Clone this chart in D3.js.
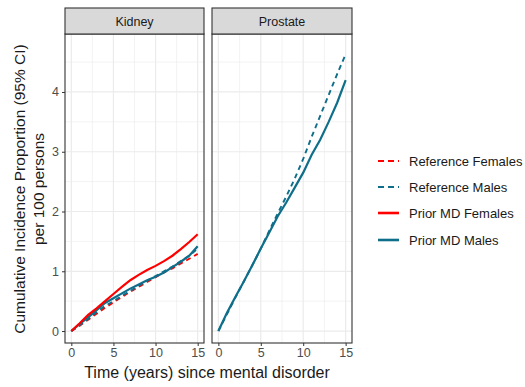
<!DOCTYPE html>
<html><head><meta charset="utf-8">
<script src="https://cdn.jsdelivr.net/npm/d3@7"></script>
<style>body{margin:0;background:#fff}svg{display:block;font-family:Arial,"Liberation Sans",sans-serif}</style>
</head><body><div id="chart"></div>
<script>
const years = [0,1,2,3,4,5,6,7,8,9,10,11,12,13,14,15];
const panels = ["Kidney","Prostate"];
const seriesNames = ["Reference Females","Reference Males","Prior MD Females","Prior MD Males"];
const kidneyRefFemales = [0,0.09,0.19,0.29,0.39,0.48,0.57,0.66,0.74,0.82,0.90,0.98,1.05,1.13,1.21,1.29];
const kidneyRefMales   = [0,0.10,0.20,0.32,0.42,0.50,0.59,0.67,0.76,0.84,0.92,1.00,1.08,1.17,1.26,1.38];
const kidneyMDFemales  = [0,0.13,0.27,0.38,0.50,0.62,0.74,0.85,0.94,1.02,1.09,1.17,1.26,1.37,1.49,1.62];
const kidneyMDMales    = [0,0.12,0.23,0.35,0.47,0.55,0.63,0.71,0.78,0.85,0.91,0.98,1.07,1.16,1.26,1.42];
const prostateRefMales = [0,0.28,0.56,0.83,1.10,1.38,1.68,1.97,2.25,2.55,2.88,3.25,3.60,3.95,4.30,4.63];
const prostateMDMales  = [0,0.30,0.57,0.83,1.10,1.38,1.65,1.92,2.15,2.40,2.65,2.95,3.20,3.50,3.82,4.20];
const xTicks = [0,5,10,15];
const yTicks = [0,1,2,3,4];

const colors = {"Reference Females":"#FF0000","Reference Males":"#0F6E89","Prior MD Females":"#FF0000","Prior MD Males":"#0F6E89"};
const dashed = {"Reference Females":true,"Reference Males":true,"Prior MD Females":false,"Prior MD Males":false};

const data = {
  Kidney: [
    {name:"Reference Females", v:kidneyRefFemales},
    {name:"Reference Males", v:kidneyRefMales},
    {name:"Prior MD Males", v:kidneyMDMales},
    {name:"Prior MD Females", v:kidneyMDFemales}
  ],
  Prostate: [
    {name:"Reference Males", v:prostateRefMales},
    {name:"Prior MD Males", v:prostateMDMales}
  ]
};

const W=525,H=387;
const FONT="Arial,'Liberation Sans',sans-serif";
const svg=d3.select("#chart").append("svg").attr("width",W).attr("height",H);
const panelX = {Kidney:[65,204], Prostate:[212,352]};
const pTop=34, pBottom=343, stripTop=8;
const y=d3.scaleLinear().domain([-0.2,4.97]).range([pBottom,pTop]);

panels.forEach(p=>{
  const [x0,x1]=panelX[p];
  const x=d3.scaleLinear().domain([-0.75,15.75]).range([x0,x1]);
  const g=svg.append("g");
  [2.5,7.5,12.5].forEach(t=>g.append("line").attr("x1",x(t)).attr("x2",x(t)).attr("y1",pTop).attr("y2",pBottom).attr("stroke","#ebebeb").attr("stroke-width",0.6));
  [0.5,1.5,2.5,3.5,4.5].forEach(t=>g.append("line").attr("x1",x0).attr("x2",x1).attr("y1",y(t)).attr("y2",y(t)).attr("stroke","#ebebeb").attr("stroke-width",0.6));
  xTicks.forEach(t=>g.append("line").attr("x1",x(t)).attr("x2",x(t)).attr("y1",pTop).attr("y2",pBottom).attr("stroke","#ebebeb").attr("stroke-width",1.2));
  yTicks.forEach(t=>g.append("line").attr("x1",x0).attr("x2",x1).attr("y1",y(t)).attr("y2",y(t)).attr("stroke","#ebebeb").attr("stroke-width",1.2));
  const line=d3.line().x((d,i)=>x(years[i])).y(d=>y(d));
  data[p].forEach(s=>{
    g.append("path").datum(s.v).attr("d",line).attr("fill","none")
     .attr("stroke",colors[s.name]).attr("stroke-width",dashed[s.name]?1.9:2.2)
     .attr("stroke-dasharray",dashed[s.name]?"5,4":null);
  });
  g.append("rect").attr("x",x0).attr("y",pTop).attr("width",x1-x0).attr("height",pBottom-pTop).attr("fill","none").attr("stroke","#333").attr("stroke-width",1.1);
  g.append("rect").attr("x",x0).attr("y",stripTop).attr("width",x1-x0).attr("height",pTop-stripTop).attr("fill","#d9d9d9").attr("stroke","#333").attr("stroke-width",1.1);
  g.append("text").attr("x",(x0+x1)/2).attr("y",(stripTop+pTop)/2+4.5).attr("text-anchor","middle").attr("font-size",12.5).attr("fill","#1a1a1a").text(p);
  const xa=svg.append("g").attr("transform",`translate(0,${pBottom})`).call(d3.axisBottom(x).tickValues(xTicks).tickFormat(d3.format("d")).tickSize(3).tickPadding(2));
  xa.select(".domain").remove();
  xa.selectAll("line").attr("stroke","#333");
  xa.selectAll("text").attr("font-size",12.5).attr("fill","#4d4d4d").attr("font-family",FONT);
});
const ya=svg.append("g").attr("transform",`translate(65,0)`).call(d3.axisLeft(y).tickValues(yTicks).tickFormat(d3.format("d")).tickSize(3).tickPadding(3));
ya.select(".domain").remove();
ya.selectAll("line").attr("stroke","#333");
ya.selectAll("text").attr("font-size",12.5).attr("fill","#4d4d4d").attr("font-family",FONT);

const yt=svg.append("text").attr("transform","translate(25,189) rotate(-90)").attr("text-anchor","middle").attr("font-size",15.5).attr("fill","#1a1a1a");
yt.append("tspan").attr("x",0).attr("dy",0).text("Cumulative Incidence Proportion (95% CI)");
yt.append("tspan").attr("x",0).attr("dy",19).text("per 100 persons");
svg.append("text").attr("x",207).attr("y",378).attr("text-anchor","middle").attr("font-size",16).attr("fill","#1a1a1a").text("Time (years) since mental disorder");

const legY=[161,187,213,240];
seriesNames.forEach((n,i)=>{
  svg.append("line").attr("x1",378).attr("x2",399).attr("y1",legY[i]).attr("y2",legY[i])
    .attr("stroke",colors[n]).attr("stroke-width",dashed[n]?1.9:2.6).attr("stroke-dasharray",dashed[n]?"6,4":null);
  svg.append("text").attr("x",409).attr("y",legY[i]+4.5).attr("font-size",13).attr("fill","#1a1a1a").text(n);
});
</script></body></html>
